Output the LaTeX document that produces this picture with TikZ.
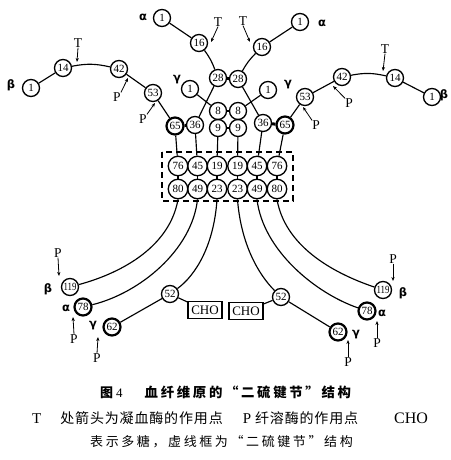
\documentclass[tikz,border=0pt]{standalone}
\usepackage{graphicx}
\usepackage{fontspec}
\setmainfont{Liberation Serif}
\newfontfamily\cjkfont[LetterSpace=6]{Noto Sans CJK SC}
\newfontfamily\cjkspaced[LetterSpace=20]{Noto Sans CJK SC}
\newfontfamily\grkfont{DejaVu Sans}
\usetikzlibrary{arrows.meta}
\tikzset{
 res/.style={circle,draw,line width=1.35pt,minimum size=17pt,inner sep=0pt,font=\fontsize{11}{11}\selectfont},
 resb/.style={res,minimum size=19.5pt},
 heavy/.style={line width=2.2pt},
 chainline/.style={line width=1.15pt},
 bond/.style={line width=3pt},
 lab/.style={font=\fontsize{13.5}{13.5}\selectfont,inner sep=0pt},
 greek/.style={font=\grkfont\bfseries\fontsize{11.5}{11.5}\selectfont,inner sep=0pt},
 arr/.style={line width=0.8pt,-{Stealth[length=4pt,width=3.2pt]}},
 chobox/.style={draw,line width=1.8pt,inner sep=0pt,minimum width=34pt,minimum height=17pt,font=\fontsize{13}{13}\selectfont},
 capline/.style={inner sep=0pt,anchor=west,font=\fontsize{13}{13}\selectfont},
}
\begin{document}
\begin{tikzpicture}[x=1pt,y=-1pt]
\fill[white] (0,0) rectangle (450,460);
\useasboundingbox (0,0) rectangle (450,460);

% ---- top left
\node[res] (bL1) at (31,88) {1};
\node[res] (b14L) at (63,68) {14};
\node[res] (b42L) at (119,69) {42};
\node[res] (b53L) at (153,93) {53};
\node[res,heavy] (b65L) at (175,126) {65};
\node[res] (a1L) at (162,18) {1};
\node[res] (a16L) at (199,43) {16};
\node[res] (a28L) at (218,78) {28};
\node[res] (g1L) at (190,89) {1};
\node[res] (g8L) at (218,111) {8};
\node[res] (g9L) at (218,128) {9};
\node[res] (a36L) at (195,125) {36};
% ---- top right
\node[res] (a1R) at (300,22) {1};
\node[res] (a16R) at (262,47) {16};
\node[res] (a28R) at (238,79) {28};
\node[res] (g1R) at (268,90) {1};
\node[res] (g8R) at (238,111) {8};
\node[res] (g9R) at (238,128) {9};
\node[res] (a36R) at (263,123) {36};
\node[res,heavy] (b65R) at (285,125) {65};
\node[res] (b53R) at (305,97) {53};
\node[res] (b42R) at (342,77) {42};
\node[res] (b14R) at (395,78) {14};
\node[res] (bR1) at (432,97) {1};

% ---- box
\foreach \n/\x/\t in {b76L/178/76,a45L/197.5/45,g19L/217/19,g19R/237.5/19,a45R/257/45,b76R/277/76}
  \node[resb] (\n) at (\x,166) {\t};
\foreach \n/\x/\t in {b80L/178/80,a49L/197.5/49,g23L/217/23,g23R/237.5/23,a49R/257/49,b80R/277/80}
  \node[resb] (\n) at (\x,189) {\t};
\draw[line width=1.15pt,dash pattern=on 6pt off 4pt] (162,152) rectangle (293,201);

% ---- bottom
\node[res] (b119L) at (70,287) {\scalebox{0.8}[1]{119}};
\node[res,heavy] (a78L) at (83,307) {78};
\node[res] (g52L) at (170,294) {52};
\node[res,heavy] (g62L) at (112,327) {62};
\node[chobox] (choL) at (205,310) {CHO};
\node[res] (b119R) at (383,290) {\scalebox{0.8}[1]{119}};
\node[res,heavy] (a78R) at (367,311) {78};
\node[res] (g52R) at (281,297) {52};
\node[res,heavy] (g62R) at (338,332) {62};
\node[chobox] (choR) at (246,311) {CHO};

% ---- chains
\draw[chainline] (bL1) -- (b14L);
\draw[chainline] (b14L) to[bend left=12] (b42L);
\draw[chainline] (b42L) -- (b53L) -- (b65L);
\draw[chainline] (a1L) -- (a16L);
\draw[chainline] (a16L) to[bend left=8] (a28L);
\draw[chainline] (a28L) -- (a36L);
\draw[chainline] (g1L) -- (g8L);
\draw[chainline] (bR1) -- (b14R);
\draw[chainline] (b14R) to[bend right=12] (b42R);
\draw[chainline] (b42R) -- (b53R) -- (b65R);
\draw[chainline] (a1R) -- (a16R);
\draw[chainline] (a16R) to[bend right=8] (a28R);
\draw[chainline] (a28R) -- (a36R);
\draw[chainline] (g1R) -- (g8R);
\draw[bond] (b65L) -- (a36L);
\draw[bond] (b65R) -- (a36R);
\draw[bond] (a28L) -- (a28R);
\draw[line width=2pt] (g8L) -- (g8R);
\draw[line width=2pt] (g9L) -- (g9R);
\draw[chainline] (g8L) -- (g9L);
\draw[chainline] (g8R) -- (g9R);
% verticals into box
\draw[chainline] (b65L) -- (b76L);
\draw[chainline] (a36L) -- (a45L);
\draw[chainline] (g9L) -- (g19L);
\draw[chainline] (g9R) -- (g19R);
\draw[chainline] (a36R) -- (a45R);
\draw[chainline] (b65R) -- (b76R);
\foreach \a/\b in {b76L/b80L,a45L/a49L,g19L/g23L,g19R/g23R,a45R/a49R,b76R/b80R}
  \draw[chainline] (\a) -- (\b);
% curves out of box
\draw[chainline] (b80L.south) .. controls (170,245) and (125,272) .. (b119L);
\draw[chainline] (a49L.south) .. controls (192,250) and (140,293) .. (a78L);
\draw[chainline] (g23L.south) .. controls (214,245) and (196,275) .. (g52L);
\draw[chainline] (g52L) -- (g62L);
\draw[chainline] (g52L) -- (choL);
\draw[chainline] (b80R.south) .. controls (285,245) and (330,272) .. (b119R);
\draw[chainline] (a49R.south) .. controls (263,250) and (315,293) .. (a78R);
\draw[chainline] (g23R.south) .. controls (241,245) and (259,275) .. (g52R);
\draw[chainline] (g52R) -- (g62R);
\draw[chainline] (g52R) -- (choR);

% ---- greek labels
\node[greek] (la1) at (143,17) {α};
\node[greek] (la2) at (322,23) {α};
\node[greek] (lb1) at (11,85) {β};
\node[greek] (lb2) at (444,95) {β};
\node[greek] (lg1) at (177,80) {γ};
\node[greek] (lg2) at (288,85) {γ};
\node[greek] (lb3) at (48,289) {β};
\node[greek] (la3) at (66,308) {α};
\node[greek] (lg3) at (93,326) {γ};
\node[greek] (lb4) at (403,293) {β};
\node[greek] (la4) at (382,313) {α};
\node[greek] (lg4) at (356,335) {γ};

% ---- T and P markers
\node[lab] (t1) at (218,22) {T};
\coordinate (t1e) at (211,42);
\draw[arr] (t1.south) -- (t1e);
\node[lab] (t2) at (243,21) {T};
\coordinate (t2e) at (250,42);
\draw[arr] (t2.south) -- (t2e);
\node[lab] (t3) at (78,43) {T};
\coordinate (t3e) at (77,62);
\draw[arr] (t3.south) -- (t3e);
\node[lab] (t4) at (385,49) {T};
\coordinate (t4e) at (383,71);
\draw[arr] (t4.south) -- (t4e);

\node[lab] (p1) at (117,97) {P};
\coordinate (p1e) at (128,78);
\draw[arr] (p1.north east) -- (p1e);
\node[lab] (p2) at (143,119) {P};
\coordinate (p2e) at (155,103);
\draw[arr] (p2.north east) -- (p2e);
\node[lab] (p3) at (349,103) {P};
\coordinate (p3e) at (333,86);
\draw[arr] (p3.north west) -- (p3e);
\node[lab] (p4) at (316,125) {P};
\coordinate (p4e) at (303,107);
\draw[arr] (p4.north west) -- (p4e);

\node[lab] (p5) at (58,253) {P};
\coordinate (p5e) at (59,276);
\draw[arr] (p5.south) -- (p5e);
\node[lab] (p6) at (74,339) {P};
\coordinate (p6e) at (73,317);
\draw[arr] (p6.north) -- (p6e);
\node[lab] (p7) at (97,358) {P};
\coordinate (p7e) at (98,337);
\draw[arr] (p7.north) -- (p7e);
\node[lab] (p8) at (393,259) {P};
\coordinate (p8e) at (393,281);
\draw[arr] (p8.south) -- (p8e);
\node[lab] (p9) at (377,343) {P};
\coordinate (p9e) at (377,321);
\draw[arr] (p9.north) -- (p9e);
\node[lab] (p10) at (348,362) {P};
\coordinate (p10e) at (348,340);
\draw[arr] (p10.north) -- (p10e);

% ---- caption
\node[capline] (cap1) at (100,392) {{\cjkspaced\bfseries 图}\hspace{3pt}4\hspace{22pt}{\cjkspaced\bfseries\fontsize{13.4}{13.4}\selectfont 血纤维原的“二硫键节”结构}};
\node[capline] (cap2) at (32,418) {{\fontsize{15}{15}\selectfont T}\hspace{19pt}{\cjkfont\fontsize{14}{14}\selectfont 处箭头为凝血酶的作用点}\hspace{20pt}{\fontsize{15}{15}\selectfont P}\hspace{4pt}{\cjkfont\fontsize{14}{14}\selectfont 纤溶酶的作用点}\hspace{36pt}{\fontsize{16}{16}\selectfont CHO}};
\node[capline] (cap3) at (90,442) {\cjkspaced 表示多糖，虚线框为“二硫键节”结构};
\end{tikzpicture}
\end{document}
